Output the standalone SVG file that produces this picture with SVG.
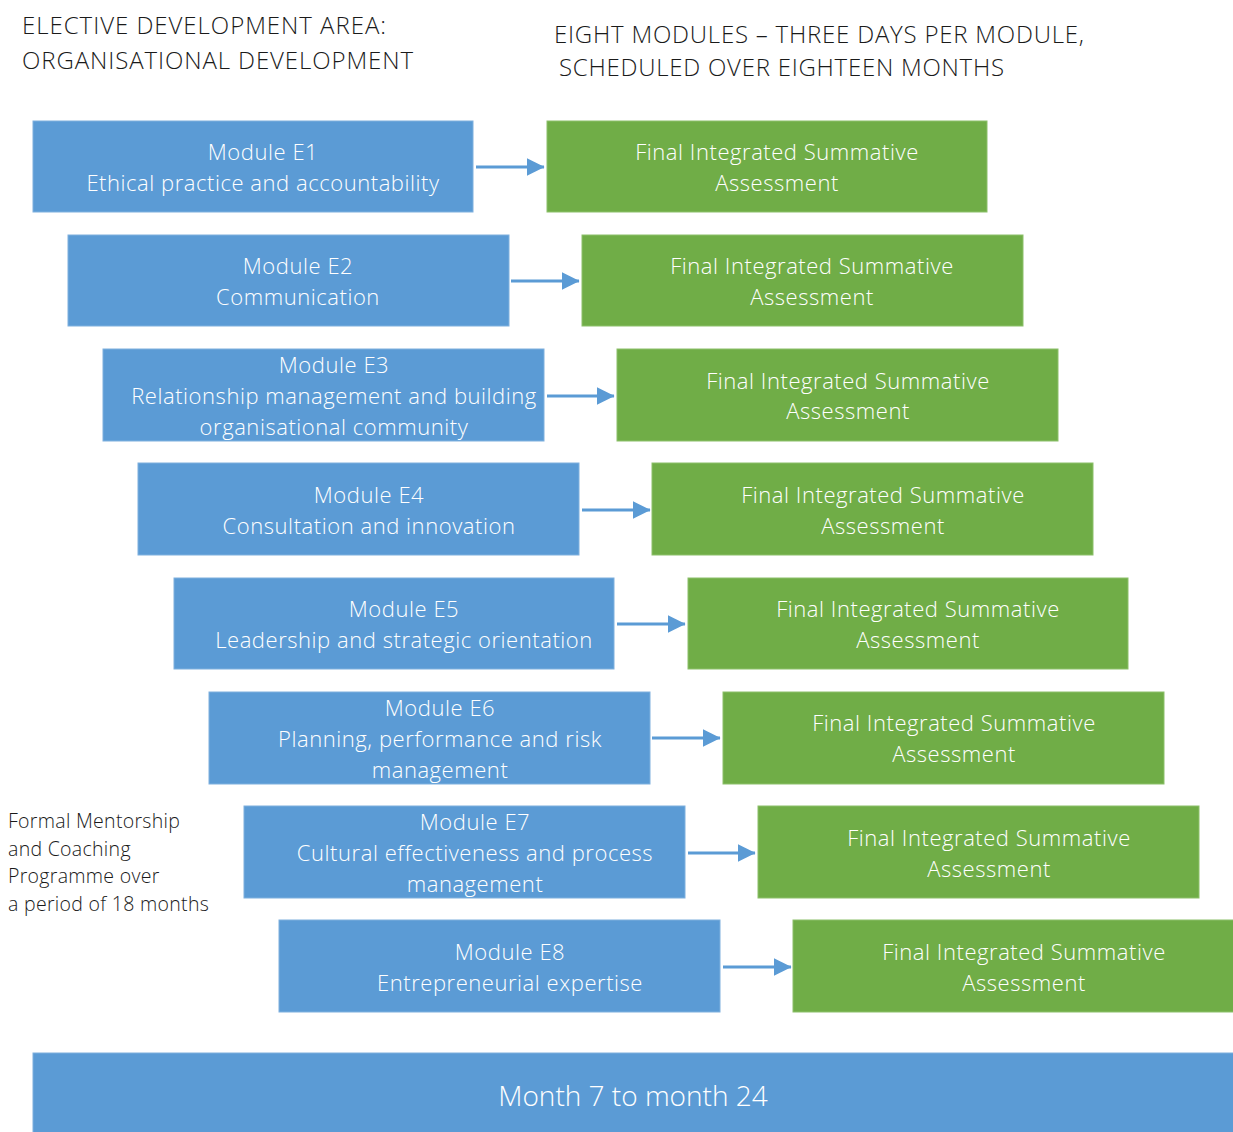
<svg xmlns="http://www.w3.org/2000/svg" width="1233" height="1132" viewBox="0 0 1233 1132">
<defs>
<style>
.t{font-family:"Open Sans","Noto Sans","Liberation Sans",sans-serif;font-weight:300;}
.h{font-size:24px;fill:#1a1a1a;}
.l{font-size:19.5px;fill:#1a1a1a;letter-spacing:0.3px;}
.bx{font-size:22px;fill:#ffffff;text-anchor:middle;letter-spacing:0.55px;}
.blue{fill:#5B9BD5;stroke:#7FB0DE;stroke-width:1;}
.green{fill:#70AD47;stroke:#8CC06A;stroke-width:1;}
.ar{stroke:#5B9BD5;stroke-width:3;fill:none;}
</style>
<marker id="ah" markerWidth="6" markerHeight="6" refX="5.8" refY="3" orient="auto" markerUnits="strokeWidth"><path d="M0,0 L6,3 L0,6 Z" fill="#5B9BD5"/></marker>
</defs>
<rect width="1233" height="1132" fill="#ffffff"/>
<g id="header" class="t h">
<text x="22" y="34" textLength="364" lengthAdjust="spacing">ELECTIVE DEVELOPMENT AREA:</text>
<text x="22" y="69" textLength="391" lengthAdjust="spacing">ORGANISATIONAL DEVELOPMENT</text>
<text x="554" y="43" textLength="530" lengthAdjust="spacing">EIGHT MODULES – THREE DAYS PER MODULE,</text>
<text x="559" y="76" textLength="445" lengthAdjust="spacing">SCHEDULED OVER EIGHTEEN MONTHS</text>
</g>
<g id="mentorship" class="t l">
<text x="8" y="828">Formal Mentorship</text>
<text x="8" y="856">and Coaching</text>
<text x="8" y="883">Programme over</text>
<text x="8" y="911">a period of 18 months</text>
</g>
<g id="connectors">
<line class="ar" x1="476" y1="167" x2="544" y2="167" marker-end="url(#ah)"/>
<line class="ar" x1="511" y1="281" x2="579" y2="281" marker-end="url(#ah)"/>
<line class="ar" x1="547" y1="396" x2="614" y2="396" marker-end="url(#ah)"/>
<line class="ar" x1="582" y1="510" x2="650" y2="510" marker-end="url(#ah)"/>
<line class="ar" x1="617" y1="624" x2="685" y2="624" marker-end="url(#ah)"/>
<line class="ar" x1="652" y1="738" x2="720" y2="738" marker-end="url(#ah)"/>
<line class="ar" x1="688" y1="853" x2="755" y2="853" marker-end="url(#ah)"/>
<line class="ar" x1="723" y1="967" x2="791" y2="967" marker-end="url(#ah)"/>
</g>
<g id="E1"><rect class="blue" x="33" y="121" width="440" height="91"/><text class="t bx"><tspan x="263" y="160">Module E1</tspan><tspan x="263" y="191">Ethical practice and accountability</tspan></text></g>
<g id="A1"><rect class="green" x="547" y="121" width="440" height="91"/><text class="t bx"><tspan x="777" y="160">Final Integrated Summative</tspan><tspan x="777" y="191">Assessment</tspan></text></g>
<g id="E2"><rect class="blue" x="68" y="235" width="441" height="91"/><text class="t bx"><tspan x="298" y="274">Module E2</tspan><tspan x="298" y="305">Communication</tspan></text></g>
<g id="A2"><rect class="green" x="582" y="235" width="441" height="91"/><text class="t bx"><tspan x="812" y="274">Final Integrated Summative</tspan><tspan x="812" y="305">Assessment</tspan></text></g>
<g id="E3"><rect class="blue" x="103" y="349" width="441" height="92"/><text class="t bx"><tspan x="334" y="373">Module E3</tspan><tspan x="334" y="404">Relationship management and building</tspan><tspan x="334" y="435">organisational community</tspan></text></g>
<g id="A3"><rect class="green" x="617" y="349" width="441" height="92"/><text class="t bx"><tspan x="848" y="389">Final Integrated Summative</tspan><tspan x="848" y="419">Assessment</tspan></text></g>
<g id="E4"><rect class="blue" x="138" y="463" width="441" height="92"/><text class="t bx"><tspan x="369" y="503">Module E4</tspan><tspan x="369" y="534">Consultation and innovation</tspan></text></g>
<g id="A4"><rect class="green" x="652" y="463" width="441" height="92"/><text class="t bx"><tspan x="883" y="503">Final Integrated Summative</tspan><tspan x="883" y="534">Assessment</tspan></text></g>
<g id="E5"><rect class="blue" x="174" y="578" width="440" height="91"/><text class="t bx"><tspan x="404" y="617">Module E5</tspan><tspan x="404" y="648">Leadership and strategic orientation</tspan></text></g>
<g id="A5"><rect class="green" x="688" y="578" width="440" height="91"/><text class="t bx"><tspan x="918" y="617">Final Integrated Summative</tspan><tspan x="918" y="648">Assessment</tspan></text></g>
<g id="E6"><rect class="blue" x="209" y="692" width="441" height="92"/><text class="t bx"><tspan x="440" y="716">Module E6</tspan><tspan x="440" y="747">Planning, performance and risk</tspan><tspan x="440" y="778">management</tspan></text></g>
<g id="A6"><rect class="green" x="723" y="692" width="441" height="92"/><text class="t bx"><tspan x="954" y="731">Final Integrated Summative</tspan><tspan x="954" y="762">Assessment</tspan></text></g>
<g id="E7"><rect class="blue" x="244" y="806" width="441" height="92"/><text class="t bx"><tspan x="475" y="830">Module E7</tspan><tspan x="475" y="861">Cultural effectiveness and process</tspan><tspan x="475" y="892">management</tspan></text></g>
<g id="A7"><rect class="green" x="758" y="806" width="441" height="92"/><text class="t bx"><tspan x="989" y="846">Final Integrated Summative</tspan><tspan x="989" y="877">Assessment</tspan></text></g>
<g id="E8"><rect class="blue" x="279" y="920" width="441" height="92"/><text class="t bx"><tspan x="510" y="960">Module E8</tspan><tspan x="510" y="991">Entrepreneurial expertise</tspan></text></g>
<g id="A8"><rect class="green" x="793" y="920" width="441" height="92"/><text class="t bx"><tspan x="1024" y="960">Final Integrated Summative</tspan><tspan x="1024" y="991">Assessment</tspan></text></g>
<g id="bar"><rect class="blue" x="33" y="1053" width="1201" height="80"/><text class="t bx" x="633" y="1106" style="font-size:28px;letter-spacing:0">Month 7 to month 24</text></g>
</svg>
